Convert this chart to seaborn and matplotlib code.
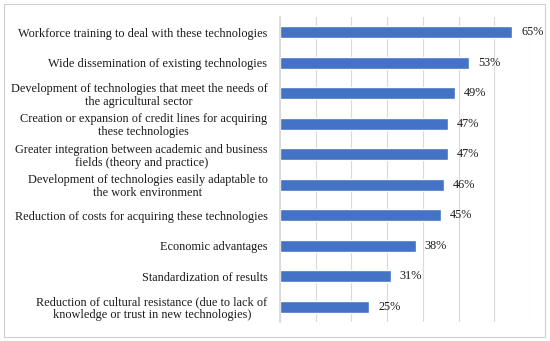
import matplotlib
matplotlib.use("Agg")
import matplotlib.pyplot as plt
import seaborn as sns
import pandas as pd
from matplotlib.patches import Rectangle

categories = [
    "Workforce training to deal with these technologies",
    "Wide dissemination of existing technologies",
    "Development of technologies that meet the needs of\nthe agricultural sector",
    "Creation or expansion of credit lines for acquiring\nthese technologies",
    "Greater integration between academic and business\nfields (theory and practice)",
    "Development of technologies easily adaptable to\nthe work environment",
    "Reduction of costs for acquiring these technologies",
    "Economic advantages",
    "Standardization of results",
    "Reduction of cultural resistance (due to lack of\nknowledge or trust in new technologies)",
]
values = [65, 53, 49, 47, 47, 46, 45, 38, 31, 25]

df = pd.DataFrame({"cat": categories, "val": values})

sns.set_theme(style="white")
plt.rcParams["font.family"] = ["Liberation Serif", "DejaVu Serif"]

fig = plt.figure(figsize=(5.5, 3.41), dpi=100)
ax = fig.add_axes([280/550, 1-322/341, 250/550, 305/341])

sns.barplot(data=df, x="val", y="cat", orient="h", color="#4472C4",
            saturation=1, width=0.38, ax=ax)

ax.set_xlim(0, 70)
ax.set_ylim(9.5, -0.5)
ax.set_xticks(range(0, 71, 10))
ax.set_xticklabels([])
ax.tick_params(axis="both", length=0)
ax.grid(axis="x", color="#d9d9d9", linewidth=0.8)
ax.set_axisbelow(True)
for s in ["top", "right", "bottom"]:
    ax.spines[s].set_visible(False)
ax.spines["left"].set_color("#d9d9d9")
ax.set_xlabel("")
ax.set_ylabel("")

for lbl in ax.get_yticklabels():
    lbl.set_multialignment("center")
    lbl.set_fontsize(8.8)
    lbl.set_linespacing(1.12)
    lbl.set_color("#1a1a1a")
ax.tick_params(axis="y", pad=9)

for i, v in enumerate(values):
    ax.text(v + 2.5, i, f"{v}%", va="center", ha="left", fontsize=8.8, color="#1a1a1a")

fig.patches.append(Rectangle((4/550, 4/341), 541/550, 333/341, transform=fig.transFigure,
                             fill=False, edgecolor="#cfcfcf", linewidth=0.8))

fig.savefig("out.png", dpi=100)
